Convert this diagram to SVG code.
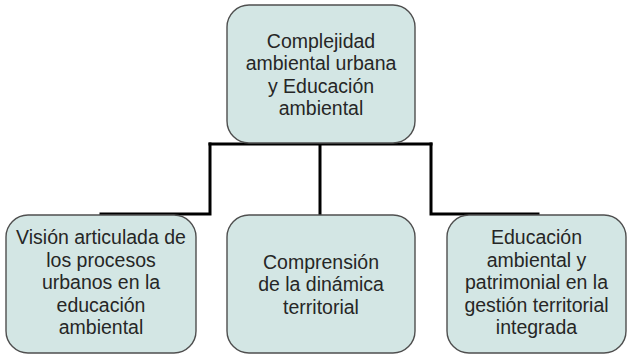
<svg xmlns="http://www.w3.org/2000/svg" width="629" height="356" viewBox="0 0 629 356">
<style>
.box{fill:#d3e6e4;stroke:#4f4f4f;stroke-width:1.4}
.t{font-family:"Liberation Sans",Arial,sans-serif;font-size:19.5px;fill:#262626;text-anchor:middle}
.c{fill:none;stroke:#000;stroke-width:3;stroke-linecap:square}
</style>
<rect width="629" height="356" fill="#fff"/>
<g id="connectors">
<path class="c" d="M210,144 H431"/>
<path class="c" d="M320,144 V214"/>
<path class="c" d="M210,144 V214 H101"/>
<path class="c" d="M431,144 V214 H538"/>
</g>
<g id="node-top">
<rect class="box" x="227" y="5" width="188" height="138" rx="22"/>
<text class="t" x="321" y="48">Complejidad</text>
<text class="t" x="321" y="70">ambiental urbana</text>
<text class="t" x="321" y="92.5">y Educación</text>
<text class="t" x="321" y="115">ambiental</text>
</g>
<g id="node-left">
<rect class="box" x="6" y="215" width="190" height="138" rx="22"/>
<text class="t" x="101" y="244">Visión articulada de</text>
<text class="t" x="101" y="266.5">los procesos</text>
<text class="t" x="101" y="289">urbanos en la</text>
<text class="t" x="101" y="311.5">educación</text>
<text class="t" x="101" y="334">ambiental</text>
</g>
<g id="node-middle">
<rect class="box" x="227" y="215" width="188" height="138" rx="22"/>
<text class="t" x="321" y="269">Comprensión</text>
<text class="t" x="321" y="291">de la dinámica</text>
<text class="t" x="321" y="313.5">territorial</text>
</g>
<g id="node-right">
<rect class="box" x="447" y="215" width="179" height="138" rx="22"/>
<text class="t" x="536.5" y="244">Educación</text>
<text class="t" x="536.5" y="266.5">ambiental y</text>
<text class="t" x="536.5" y="289">patrimonial en la</text>
<text class="t" x="536.5" y="311.5">gestión territorial</text>
<text class="t" x="536.5" y="334">integrada</text>
</g>
</svg>
